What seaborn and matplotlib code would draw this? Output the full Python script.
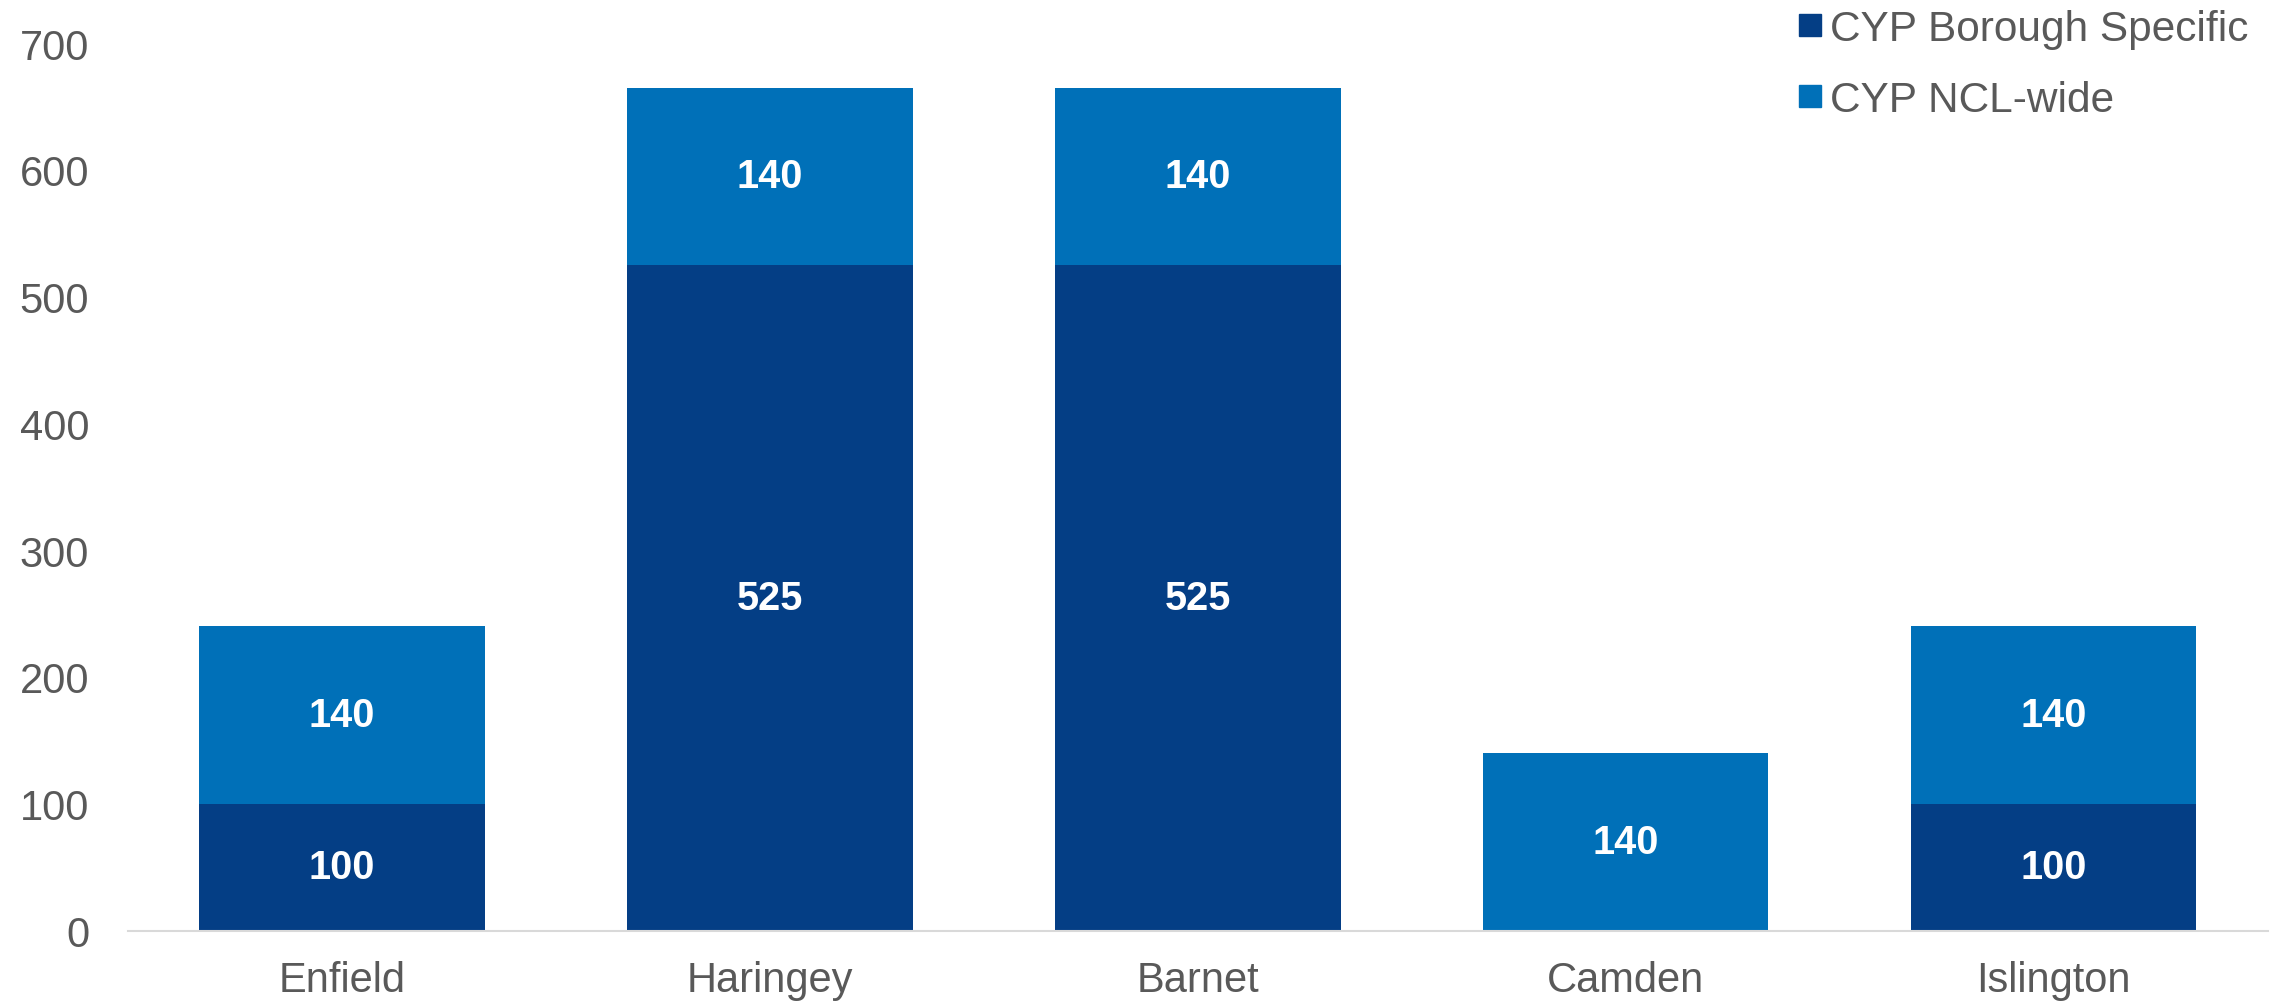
import matplotlib
matplotlib.use("Agg")
import matplotlib.pyplot as plt
import pandas as pd
import seaborn as sns
from matplotlib.lines import Line2D

# ---- data ----
boroughs = ["Enfield", "Haringey", "Barnet", "Camden", "Islington"]
borough_specific = [100, 525, 525, 0, 100]
ncl_wide = [140, 140, 140, 140, 140]
series_names = ["CYP Borough Specific", "CYP NCL-wide"]
y_ticks = [0, 100, 200, 300, 400, 500, 600, 700]

DARK = "#043E85"
LIGHT = "#0070B8"
GREY = "#595959"

df = pd.DataFrame({
    "Borough": boroughs,
    "Specific": borough_specific,
    "NCL": ncl_wide,
})
df["Total"] = df["Specific"] + df["NCL"]

sns.set_theme(style="white")
plt.rcParams["font.family"] = ["Liberation Sans", "DejaVu Sans"]

fig = plt.figure(figsize=(22.82, 10.04), dpi=100)
ax = fig.add_axes([0.0561, 0.0722, 0.9376, 0.8838])

# stacked: draw the total first, then the bottom segment on top of it
sns.barplot(data=df, x="Borough", y="Total", color=LIGHT, saturation=1,
            width=0.667, linewidth=0, ax=ax)
sns.barplot(data=df, x="Borough", y="Specific", color=DARK, saturation=1,
            width=0.667, linewidth=0, ax=ax)

for i, row in df.iterrows():
    if row["Specific"] > 0:
        ax.text(i, row["Specific"] / 2, f"{row['Specific']}", ha="center", va="center",
                color="white", fontsize=28.5, fontweight="bold")
    ax.text(i, row["Specific"] + row["NCL"] / 2, f"{row['NCL']}", ha="center", va="center",
            color="white", fontsize=28.5, fontweight="bold")

ax.set_ylim(0, 700)
ax.set_xlim(-0.5, 4.5)
ax.set_yticks(y_ticks)
ax.set_xlabel("")
ax.set_ylabel("")
ax.tick_params(axis="both", labelsize=30, colors=GREY, length=0)
ax.tick_params(axis="y", pad=28)
ax.tick_params(axis="x", pad=21)
for s in ["top", "right", "left"]:
    ax.spines[s].set_visible(False)
ax.spines["bottom"].set_color("#D9D9D9")
ax.spines["bottom"].set_linewidth(1.5)

handles = [
    Line2D([0], [0], marker="s", linestyle="none", markersize=16, color=DARK),
    Line2D([0], [0], marker="s", linestyle="none", markersize=16, color=LIGHT),
]
leg = fig.legend(handles, series_names, loc="upper right", bbox_to_anchor=(1.002, 1.028),
                 frameon=False, fontsize=30.5, handletextpad=0.2, labelspacing=0.73,
                 handlelength=0.55)
for t in leg.get_texts():
    t.set_color(GREY)

fig.savefig("out.png", dpi=100)
